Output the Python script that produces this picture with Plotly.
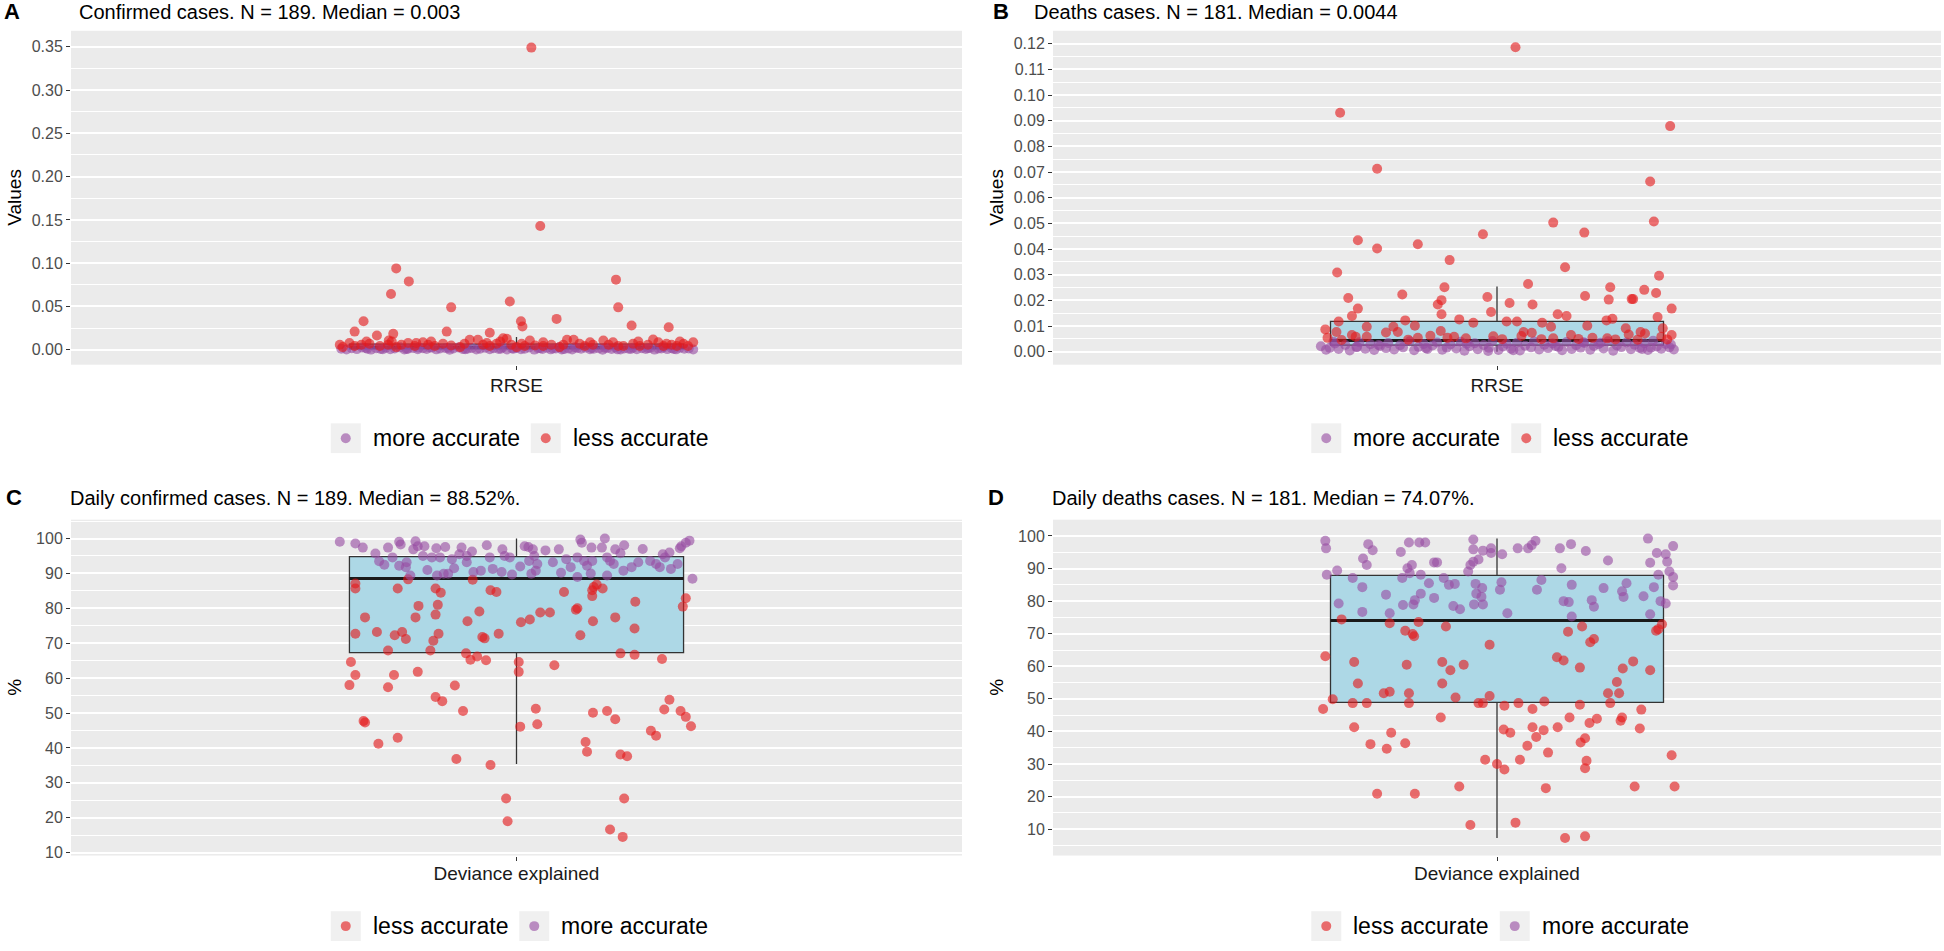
import plotly.graph_objects as go

W, H = 1944, 951
FONT = "Liberation Sans, Arial, sans-serif"
RED = "rgba(228,26,28,0.62)"
PURPLE = "rgba(152,78,163,0.62)"
BOXFILL = "#ADD8E6"
GRID_BG = "#EBEBEB"
KEY_BG = "#F0F0F0"

# ---------------- Panel A: Confirmed cases RRSE ----------------
A_less_jit = [0.020, 0.032, -0.162, -0.145, -0.169, -0.088, -0.009, 0.134, 0.137, -0.206,
              -0.218, -0.188, -0.094, 0.006, 0.008, 0.054, 0.155, 0.205, -0.166, -0.172, -0.036,
              -0.238, -0.234, -0.225, -0.218, -0.209, -0.198, -0.184, -0.168, -0.162, -0.155,
              -0.146, -0.137, -0.126, -0.119, -0.110, -0.099, -0.088, -0.076, -0.070, -0.063,
              -0.052, -0.045, -0.036, -0.027, -0.022, -0.018, -0.013, -0.007, 0.000, 0.007,
              0.018, 0.025, 0.036, 0.047, 0.058, 0.068, 0.077, 0.085, 0.092, 0.103,
              0.117, 0.124, 0.130, 0.137, 0.157, 0.166, 0.177, 0.184, 0.191, 0.198,
              0.209, 0.216, 0.225, 0.231, 0.238, -0.202, -0.173, -0.135, -0.040, 0.011,
              0.063, 0.144, 0.202, -0.115, 0.036, 0.099, 0.164, 0.220]
A_less_val = [0.349, 0.143, 0.094, 0.079, 0.0645, 0.049, 0.0557, 0.081, 0.049, 0.033,
              0.021, 0.0165, 0.021, 0.033, 0.027, 0.0357, 0.028, 0.026, 0.0184, 0.0107, 0.0196,
              0.0058, 0.0031, 0.0078, 0.0044, 0.0058, 0.0069, 0.0044, 0.0096, 0.0031, 0.0058,
              0.0078, 0.0044, 0.0088, 0.0058, 0.0044, 0.0069, 0.0050, 0.0031, 0.0069, 0.0116,
              0.0116, 0.0058, 0.0044, 0.0069, 0.0096, 0.0134, 0.0127, 0.0058, 0.0031, 0.0069,
              0.0108, 0.0050, 0.0044, 0.0058, 0.0031, 0.0116, 0.0116, 0.0069, 0.0044, 0.0058,
              0.0108, 0.0058, 0.0088, 0.0044, 0.0069, 0.0044, 0.0058, 0.0119, 0.0088, 0.0044,
              0.0058, 0.0044, 0.0069, 0.0044, 0.0088, 0.0096, 0.0058, 0.0078, 0.0078, 0.0044,
              0.0058, 0.0044, 0.0069, 0.0096, 0.0088, 0.0088, 0.0096, 0.0096]
A_more_jit = [-0.236, -0.229, -0.222, -0.215, -0.208, -0.201, -0.196, -0.189, -0.183, -0.176,
              -0.170, -0.164, -0.157, -0.151, -0.146, -0.139, -0.133, -0.126, -0.121, -0.114,
              -0.108, -0.103, -0.096, -0.090, -0.085, -0.078, -0.072, -0.066, -0.060, -0.054,
              -0.049, -0.042, -0.036, -0.031, -0.024, -0.018, -0.013, -0.006, 0.000, 0.006,
              0.011, 0.017, 0.024, 0.029, 0.035, 0.041, 0.046, 0.053, 0.058, 0.064,
              0.070, 0.075, 0.082, 0.087, 0.093, 0.099, 0.104, 0.111, 0.116, 0.122,
              0.128, 0.133, 0.140, 0.145, 0.151, 0.157, 0.162, 0.169, 0.174, 0.180,
              0.186, 0.191, 0.198, 0.203, 0.209, 0.215, 0.220, 0.226, 0.232, 0.238,
              -0.203, -0.148, -0.117, -0.069, -0.021, 0.032, 0.061, 0.119, 0.154, 0.195,
              -0.180, -0.092, -0.004, 0.079, 0.136, 0.177, 0.212, -0.132, 0.049, 0.101]
A_more_val = [0.0011, 0.0004, 0.0019, 0.0008, 0.0026, 0.0013, 0.0002, 0.0017, 0.0009, 0.0023,
              0.0006, 0.0015, 0.0028, 0.0003, 0.0012, 0.0021, 0.0007, 0.0018, 0.0010, 0.0025,
              0.0005, 0.0014, 0.0022, 0.0001, 0.0016, 0.0027, 0.0008, 0.0013, 0.0020, 0.0004,
              0.0011, 0.0024, 0.0006, 0.0017, 0.0009, 0.0029, 0.0003, 0.0015, 0.0021, 0.0007,
              0.0012, 0.0026, 0.0002, 0.0018, 0.0010, 0.0023, 0.0005, 0.0014, 0.0028, 0.0008,
              0.0016, 0.0003, 0.0020, 0.0011, 0.0025, 0.0006, 0.0013, 0.0019, 0.0001, 0.0022,
              0.0009, 0.0027, 0.0004, 0.0015, 0.0012, 0.0024, 0.0007, 0.0017, 0.0010, 0.0021,
              0.0002, 0.0014, 0.0026, 0.0008, 0.0018, 0.0005, 0.0023, 0.0011, 0.0016, 0.0003,
              0.0020, 0.0009, 0.0027, 0.0006, 0.0013, 0.0019, 0.0004, 0.0024, 0.0010, 0.0015,
              0.0007, 0.0022, 0.0012, 0.0028, 0.0005, 0.0017, 0.0009, 0.0025, 0.0014, 0.0020]
A_box = dict(q1=0.0012, median=0.003, q3=0.0065, lo=0.0, hi=0.0148)

# ---------------- Panel B: Deaths RRSE ----------------
B_less_jit = [0.025, -0.212, 0.234, -0.162, 0.207,
              0.076, 0.212, -0.019, 0.118, -0.188, -0.162, -0.107, -0.064, 0.092, -0.216,
              0.219, 0.042, -0.071, 0.153, 0.199, 0.215, -0.201, -0.128, -0.013, 0.119,
              0.151, 0.182, 0.184, -0.075, -0.080, 0.017, 0.048, -0.188, -0.196, -0.075,
              -0.008, 0.236, -0.214, -0.124, -0.051, -0.032, 0.013, 0.027, 0.061, 0.082,
              0.094, 0.148, 0.156, 0.217, -0.111, -0.176, -0.140, 0.073, 0.122, 0.174,
              -0.232, -0.217, -0.150, -0.134, -0.076, 0.036, 0.047, 0.100, 0.178, 0.194,
              0.200, 0.236, 0.224, -0.229, -0.196, -0.176, -0.107, -0.058, -0.042, 0.007,
              0.033, 0.076, 0.129, 0.149, 0.222, -0.191, -0.067,
              -0.120, 0.160, -0.005, 0.110, -0.210, 0.060, 0.190, -0.090, 0.230]
B_less_val = [0.1186, 0.0931, 0.0879, 0.0713, 0.0663,
              0.0503, 0.0507, 0.0458, 0.0464, 0.0434, 0.0402, 0.0419, 0.0357, 0.0329, 0.0309,
              0.0296, 0.0264, 0.0251, 0.0251, 0.0241, 0.0229, 0.0209, 0.0223, 0.0213, 0.0217,
              0.0203, 0.0205, 0.0205, 0.0201, 0.0184, 0.0190, 0.0184, 0.0168, 0.0139, 0.0146,
              0.0155, 0.0168, 0.0118, 0.0122, 0.0126, 0.0113, 0.0118, 0.0118, 0.0113, 0.0146,
              0.0139, 0.0122, 0.0128, 0.0135, 0.0101, 0.0097, 0.0097, 0.0097, 0.0101, 0.0091,
              0.0087, 0.0077, 0.0075, 0.0077, 0.0081, 0.0077, 0.0074, 0.0065, 0.0067, 0.0077,
              0.0071, 0.0065, 0.0091, 0.0054, 0.0065, 0.0058, 0.0054, 0.0058, 0.0052, 0.0049,
              0.0061, 0.0052, 0.0054, 0.0052, 0.0058, 0.0058, 0.0054,
              0.0047, 0.0048, 0.0060, 0.0050, 0.0046, 0.0049, 0.0047, 0.0062, 0.0048]
B_more_jit = [-0.238, -0.231, -0.226, -0.219, -0.214, -0.205, -0.199, -0.190, -0.186, -0.178,
              -0.171, -0.166, -0.158, -0.150, -0.147, -0.139, -0.131, -0.127, -0.118, -0.112,
              -0.106, -0.099, -0.094, -0.087, -0.081, -0.074, -0.068, -0.063, -0.055, -0.049,
              -0.044, -0.037, -0.030, -0.026, -0.018, -0.011, -0.006, 0.002, 0.008, 0.013,
              0.019, 0.027, 0.031, 0.038, 0.046, 0.050, 0.057, 0.064, 0.069, 0.075,
              0.083, 0.088, 0.094, 0.101, 0.107, 0.113, 0.118, 0.126, 0.131, 0.137,
              0.144, 0.150, 0.157, 0.162, 0.168, 0.175, 0.181, 0.186, 0.193, 0.199,
              0.204, 0.211, 0.216, 0.222, 0.228, 0.233, 0.239, -0.221, -0.160, -0.096,
              -0.041, 0.022, 0.079, 0.140, 0.196, 0.235, -0.189, -0.012, 0.117, 0.208]
B_more_val = [0.0021, 0.0008, 0.0015, 0.0032, 0.0011, 0.0026, 0.0005, 0.0018, 0.0037, 0.0012,
              0.0029, 0.0007, 0.0022, 0.0014, 0.0034, 0.0009, 0.0025, 0.0017, 0.0041, 0.0006,
              0.0019, 0.0030, 0.0011, 0.0024, 0.0036, 0.0008, 0.0016, 0.0028, 0.0013, 0.0039,
              0.0004, 0.0021, 0.0033, 0.0010, 0.0026, 0.0015, 0.0042, 0.0007, 0.0020, 0.0031,
              0.0012, 0.0035, 0.0005, 0.0023, 0.0017, 0.0040, 0.0009, 0.0027, 0.0014, 0.0032,
              0.0019, 0.0006, 0.0038, 0.0011, 0.0025, 0.0016, 0.0034, 0.0008, 0.0022, 0.0029,
              0.0013, 0.0041, 0.0004, 0.0024, 0.0018, 0.0036, 0.0010, 0.0027, 0.0015, 0.0033,
              0.0007, 0.0043, 0.0020, 0.0012, 0.0030, 0.0017, 0.0009, 0.0039, 0.0026, 0.0014,
              0.0031, 0.0006, 0.0022, 0.0035, 0.0011, 0.0028, 0.0019, 0.0003, 0.0037, 0.0016]
B_box = dict(q1=0.0026, median=0.0044, q3=0.0118, lo=0.0, hi=0.0254)

# ---------------- Panel C: Daily confirmed, deviance explained ----------------
C_less_jit = [-0.146, -0.217, -0.217, -0.160, -0.109, -0.102, -0.059, -0.035, -0.027, 0.064,
              0.102, 0.104, 0.108, 0.116, 0.102, 0.160, 0.228, 0.224, -0.132, -0.106,
              -0.136, -0.109, -0.204, -0.066, -0.050, 0.006, 0.018, 0.032, 0.045, 0.080,
              0.082, 0.103, 0.133, -0.217, -0.188, -0.164, -0.154, -0.149, -0.112, -0.105,
              -0.046, -0.043, -0.024, 0.086, 0.159, -0.173, -0.116, -0.068, -0.062, -0.053,
              -0.041, 0.140, 0.159, 0.196, -0.223, 0.003, 0.051, -0.217, -0.165, -0.133,
              0.003, -0.225, -0.173, -0.083, -0.109, -0.100, -0.072, -0.206, -0.204, -0.160,
              -0.186, -0.081, -0.035, 0.026, 0.005, 0.028, 0.103, 0.122, 0.133, 0.206,
              0.199, 0.221, 0.228, 0.235, 0.181, 0.188, 0.093, 0.095, 0.140, 0.149,
              -0.014, 0.145, -0.012, 0.126, 0.143]
C_less_val = [88.3, 87.1, 85.7, 85.7, 85.7, 84.5, 88.2, 85.2, 84.7, 84.7,
              85.2, 86.1, 86.8, 85.7, 83.5, 81.9, 82.9, 80.5, 80.7, 81.0,
              77.4, 78.2, 77.4, 76.3, 79.1, 76.0, 76.8, 78.8, 78.8, 79.6,
              80.0, 76.3, 77.4, 72.7, 73.2, 72.3, 73.2, 71.2, 70.7, 72.7,
              71.8, 71.4, 72.7, 72.3, 74.2, 67.9, 67.9, 67.1, 65.3, 66.2,
              65.1, 67.1, 66.7, 65.5, 64.6, 64.6, 63.7, 60.9, 60.9, 61.8,
              61.8, 58.0, 57.4, 57.9, 54.6, 53.4, 50.6, 47.7, 47.3, 42.9,
              41.2, 36.8, 35.1, 51.2, 46.1, 46.8, 50.1, 50.6, 48.2, 53.8,
              51.0, 50.6, 48.9, 46.2, 44.9, 43.5, 41.7, 38.9, 38.1, 37.6,
              25.5, 25.5, 19.0, 16.6, 14.5]
C_more_jit = [-0.238, -0.217, -0.207, -0.190, -0.178, -0.173, -0.167, -0.158, -0.156, -0.158,
              -0.148, -0.149, -0.143, -0.139, -0.136, -0.133, -0.126, -0.124, -0.114, -0.108,
              -0.107, -0.103, -0.096, -0.098, -0.092, -0.087, -0.084, -0.077, -0.074, -0.067,
              -0.067, -0.058, -0.048, -0.040, -0.036, -0.032, -0.020, -0.019, -0.016, -0.009,
              -0.006, 0.011, 0.016, 0.022, 0.017, 0.024, 0.020, 0.028, 0.026, 0.039,
              0.049, 0.057, 0.067, 0.073, 0.082, 0.082, 0.086, 0.088, 0.091, 0.095,
              0.102, 0.101, 0.115, 0.119, 0.122, 0.126, 0.131, 0.122, 0.133, 0.145,
              0.144, 0.155, 0.164, 0.180, 0.188, 0.193, 0.197, 0.200, 0.206, 0.208,
              0.220, 0.222, 0.228, 0.233, 0.217, 0.237, 0.005, -0.060, 0.140, -0.185,
              0.060, -0.120, 0.170, 0.100]
C_more_val = [99.1, 98.6, 97.4, 95.7, 92.5, 97.4, 94.6, 99.1, 98.3, 92.2,
              93.2, 91.8, 89.4, 96.9, 99.2, 97.8, 95.0, 97.8, 94.6, 97.2,
              89.4, 94.6, 97.6, 89.9, 89.9, 94.1, 91.5, 95.5, 97.4, 95.0,
              93.2, 90.4, 90.8, 98.1, 94.6, 91.3, 90.4, 96.9, 95.0, 94.6,
              89.7, 97.8, 97.6, 96.9, 93.6, 95.0, 89.9, 92.7, 90.8, 96.6,
              93.2, 96.9, 94.1, 91.8, 94.6, 89.0, 99.7, 98.8, 93.6, 92.2,
              93.6, 97.4, 97.4, 100.0, 94.6, 93.6, 92.7, 89.4, 96.9, 98.1,
              90.8, 91.8, 93.2, 93.6, 92.7, 91.8, 95.5, 94.6, 96.0, 91.3,
              97.2, 97.8, 98.8, 99.4, 92.7, 88.5, 92.0, 96.3, 95.8, 93.5,
              90.2, 91.0, 97.0, 90.0]
C_box = dict(q1=67.3, median=88.52, q3=94.8, lo=35.4, hi=100.0)

# ---------------- Panel D: Daily deaths, deviance explained ----------------
D_less_jit = [-0.210, -0.145, -0.106, -0.124, -0.114, -0.112, -0.069, -0.010, 0.096, 0.115,
              0.126, 0.131, 0.215, 0.218, 0.223, -0.232, -0.193, -0.122, -0.074, -0.063,
              -0.045, 0.081, 0.090, 0.112, 0.170, 0.184, 0.207, -0.188, -0.074, 0.162,
              -0.153, -0.145, -0.119, -0.056, -0.010, 0.150, 0.165, -0.222, -0.195, -0.176,
              -0.119, -0.025, -0.019, 0.010, 0.029, 0.048, 0.064, 0.112, 0.153, -0.235,
              -0.076, -0.193, -0.143, -0.171, -0.149, -0.124, 0.009, 0.018, 0.048, 0.063,
              0.053, 0.041, 0.082, 0.098, 0.125, 0.135, 0.167, 0.169, 0.195, 0.193,
              0.119, 0.113, 0.069, 0.121, 0.119, -0.016, 0.000, 0.010, 0.031, 0.236,
              -0.162, -0.111, -0.051, 0.066, 0.186, 0.240, -0.036, 0.025, 0.092, 0.119]
D_less_val = [74.4, 73.2, 73.6, 70.9, 69.9, 69.2, 72.2, 66.6, 70.6, 72.2,
              67.4, 68.4, 70.9, 71.4, 72.9, 63.1, 61.3, 60.5, 61.3, 58.8,
              60.5, 62.8, 61.8, 59.6, 59.3, 61.5, 58.8, 54.7, 54.7, 55.2,
              51.7, 52.2, 51.7, 50.4, 50.9, 51.7, 51.7, 49.9, 48.7, 48.7,
              48.7, 48.7, 48.7, 47.9, 48.7, 46.9, 49.2, 48.2, 48.7, 46.9,
              44.3, 41.3, 39.6, 36.1, 34.7, 36.4, 40.6, 39.6, 41.3, 40.4,
              38.3, 35.6, 41.3, 44.3, 42.6, 43.9, 43.3, 44.3, 46.7, 40.9,
              37.9, 36.6, 33.5, 31.0, 28.7, 31.3, 30.0, 28.3, 31.3, 32.7,
              20.9, 20.9, 23.1, 22.6, 23.1, 23.1, 11.3, 12.0, 7.3, 7.8]
D_more_jit = [-0.232, -0.231, -0.174, -0.168, -0.181, -0.176, -0.130, -0.119, -0.105, -0.097,
              -0.085, -0.081, -0.121, -0.115, -0.118, -0.128, -0.103, -0.092, -0.195, -0.216,
              -0.230, -0.182, -0.214, -0.182, -0.145, -0.127, -0.113, -0.111, -0.103, -0.085,
              -0.072, -0.065, -0.057, -0.059, -0.032, -0.032, -0.019, -0.008, -0.008, 0.007,
              -0.036, -0.032, -0.025, -0.039, -0.029, -0.020, -0.028, -0.021, -0.031, -0.019,
              0.006, 0.004, 0.014, 0.028, 0.042, 0.047, 0.052, 0.054, 0.085, 0.100,
              0.120, 0.087, 0.101, 0.090, 0.097, 0.101, 0.128, 0.131, 0.144, 0.169,
              0.175, 0.171, 0.198, 0.204, 0.216, 0.228, 0.238, 0.230, 0.207, 0.218,
              0.233, 0.238, 0.238, 0.212, 0.221, 0.228, 0.207, 0.150, -0.150, 0.060,
              -0.050]
D_more_val = [98.5, 96.2, 97.5, 95.6, 93.1, 91.1, 95.1, 98.0, 98.0, 98.0,
              91.9, 91.9, 90.1, 91.1, 88.6, 87.1, 88.1, 85.5, 87.1, 89.4,
              88.1, 84.3, 79.3, 76.7, 76.3, 78.8, 79.0, 80.3, 82.3, 81.0,
              87.1, 85.0, 85.3, 78.5, 98.9, 95.9, 95.5, 96.2, 94.8, 94.4,
              91.1, 92.1, 92.8, 89.1, 85.3, 84.0, 82.3, 81.3, 79.0, 79.0,
              85.8, 83.5, 76.3, 96.2, 96.2, 97.2, 98.5, 83.5, 96.2, 97.5,
              95.4, 90.1, 85.0, 80.0, 79.7, 75.3, 80.3, 78.3, 84.0, 83.0,
              85.5, 81.3, 81.5, 99.2, 94.8, 94.4, 96.9, 92.1, 91.8, 88.1,
              89.1, 87.4, 84.8, 84.3, 80.0, 79.3, 76.0, 92.5, 82.0, 86.5,
              77.5]
D_box = dict(q1=48.9, median=74.07, q3=87.9, lo=7.3, hi=99.2)

panels = [
    dict(tag="A", title="Confirmed cases. N = 189. Median = 0.003", xlab="RRSE", ylab="Values",
         order=[("more accurate", A_more_jit, A_more_val, PURPLE), ("less accurate", A_less_jit, A_less_val, RED)],
         box=A_box, yrange=[-0.0172, 0.3684], dtick=0.05, fmt=".2f",
         xdom=(71, 962), ydom=(31, 367), tag_x=2, title_x=77, title_y=12, leg_y=441, lab_off=0),
    dict(tag="B", title="Deaths cases. N = 181. Median = 0.0044", xlab="RRSE", ylab="Values",
         order=[("more accurate", B_more_jit, B_more_val, PURPLE), ("less accurate", B_less_jit, B_less_val, RED)],
         box=B_box, yrange=[-0.00505, 0.12503], dtick=0.01, fmt=".2f",
         xdom=(1053, 1941), ydom=(31, 367), tag_x=991, title_x=1032, title_y=12, leg_y=441, lab_off=0),
    dict(tag="C", title="Daily confirmed cases. N = 189. Median = 88.52%.", xlab="Deviance explained", ylab="%",
         order=[("less accurate", C_less_jit, C_less_val, RED), ("more accurate", C_more_jit, C_more_val, PURPLE)],
         box=C_box, yrange=[9.15, 105.4], dtick=10, fmt="d",
         xdom=(71, 962), ydom=(523, 861), tag_x=4, title_x=68, title_y=501, leg_y=932, lab_off=-3),
    dict(tag="D", title="Daily deaths cases. N = 181. Median = 74.07%.", xlab="Deviance explained", ylab="%",
         order=[("less accurate", D_less_jit, D_less_val, RED), ("more accurate", D_more_jit, D_more_val, PURPLE)],
         box=D_box, yrange=[1.9, 105.0], dtick=10, fmt="d",
         xdom=(1053, 1941), ydom=(523, 861), tag_x=986, title_x=1050, title_y=501, leg_y=932, lab_off=-3),
]

CENTER = 1.0
BOX_W = 0.45
LEG_FONT = 23
# Arial / Liberation Sans advance widths (in em) of the two legend labels
LABEL_EM = {"more accurate": 6.391, "less accurate": 5.891}
KEY = 30
KEY_GAP = 10
ITEM_GAP = 13

fig = go.Figure()
annotations = []
shapes = []
layout_axes = {}


def px(xp):
    return xp / W


def py(yp):
    return 1 - yp / H


for i, p in enumerate(panels):
    n = i + 1
    xa = "x" if n == 1 else f"x{n}"
    ya = "y" if n == 1 else f"y{n}"
    b = p["box"]
    fig.add_trace(go.Box(
        x=[CENTER], q1=[b["q1"]], median=[b["median"]], q3=[b["q3"]],
        lowerfence=[b["lo"]], upperfence=[b["hi"]], width=BOX_W,
        fillcolor=BOXFILL, line=dict(color="#333333", width=1.3), whiskerwidth=0,
        boxpoints=False, showlegend=False, hoverinfo="skip", xaxis=xa, yaxis=ya))
    fig.add_trace(go.Scatter(
        x=[CENTER - BOX_W / 2, CENTER + BOX_W / 2], y=[b["median"], b["median"]],
        mode="lines", line=dict(color="#1A1A1A", width=3), showlegend=False,
        hoverinfo="skip", xaxis=xa, yaxis=ya))
    for name, jit, val, col in p["order"]:
        fig.add_trace(go.Scatter(
            x=[CENTER + j for j in jit], y=val, mode="markers", name=name,
            marker=dict(color=col, size=10, line=dict(width=0)),
            xaxis=xa, yaxis=ya, showlegend=False))

    x0, x1 = p["xdom"]
    y0, y1 = p["ydom"]
    xkey = "xaxis" if n == 1 else f"xaxis{n}"
    ykey = "yaxis" if n == 1 else f"yaxis{n}"
    layout_axes[xkey] = dict(
        domain=[px(x0), px(x1)], range=[0.4, 1.6], anchor=ya,
        tickvals=[CENTER], ticktext=[p["xlab"]], showgrid=False, zeroline=False,
        ticks="outside", ticklen=4, tickcolor="#333333", tickwidth=1,
        ticklabelstandoff=p["lab_off"],
        tickfont=dict(family=FONT, size=19, color="#1A1A1A"), showline=False, fixedrange=True)
    layout_axes[ykey] = dict(
        domain=[py(y1), py(y0)], range=p["yrange"], anchor=xa,
        dtick=p["dtick"], tick0=0, tickformat=p["fmt"], showgrid=True,
        gridcolor="white", gridwidth=1.6, zeroline=False,
        minor=dict(dtick=p["dtick"] / 2, tick0=0, showgrid=True, gridcolor="white", gridwidth=0.8),
        ticks="outside", ticklen=4, tickcolor="#333333", tickwidth=1,
        tickfont=dict(family=FONT, size=16, color="#4D4D4D"), showline=False, fixedrange=True)

    # panel tag + title
    annotations.append(dict(text=f"<b>{p['tag']}</b>", x=px(p["tag_x"]), y=py(p["title_y"]),
                            xref="paper", yref="paper", xanchor="left", yanchor="middle",
                            showarrow=False, font=dict(family=FONT, size=22, color="black")))
    annotations.append(dict(text=p["title"], x=px(p["title_x"]), y=py(p["title_y"]),
                            xref="paper", yref="paper", xanchor="left", yanchor="middle",
                            showarrow=False, font=dict(family=FONT, size=20, color="black")))
    # y-axis title
    annotations.append(dict(text=p["ylab"], x=px(x0 - 56), y=py((y0 + y1) / 2),
                            xref="paper", yref="paper", xanchor="center", yanchor="middle",
                            textangle=-90, showarrow=False, font=dict(family=FONT, size=19, color="black")))

    # legend (ggplot-style keys on grey squares) below the panel
    names = [o[0] for o in p["order"]]
    cols = [o[3] for o in p["order"]]
    widths = [LABEL_EM[nm] * LEG_FONT for nm in names]
    total = sum(KEY + KEY_GAP + w for w in widths) + ITEM_GAP * (len(names) - 1)
    cx = (x0 + x1) / 2 + 2
    lx = cx - total / 2
    ly = p["leg_y"]
    for nm, col, w in zip(names, cols, widths):
        shapes.append(dict(type="rect", xref="paper", yref="paper",
                           x0=px(lx), x1=px(lx + KEY), y0=py(ly + KEY / 2), y1=py(ly - KEY / 2),
                           fillcolor=KEY_BG, line=dict(width=0), layer="below"))
        kc = lx + KEY / 2
        shapes.append(dict(type="circle", xref="paper", yref="paper",
                           x0=px(kc - 5), x1=px(kc + 5), y0=py(ly + 5), y1=py(ly - 5),
                           fillcolor=col, line=dict(width=0)))
        annotations.append(dict(text=nm, x=px(lx + KEY + KEY_GAP), y=py(ly), xref="paper", yref="paper",
                                xanchor="left", yanchor="middle", showarrow=False,
                                font=dict(family=FONT, size=LEG_FONT, color="black")))
        lx += KEY + KEY_GAP + w + ITEM_GAP

fig.update_layout(
    width=W, height=H, margin=dict(l=0, r=0, t=0, b=0),
    paper_bgcolor="white", plot_bgcolor=GRID_BG, showlegend=False,
    annotations=annotations, shapes=shapes, **layout_axes)

fig.write_html("out.html", config={"displayModeBar": False},
               post_script="document.body.style.margin='0px';document.body.style.overflow='hidden';")
